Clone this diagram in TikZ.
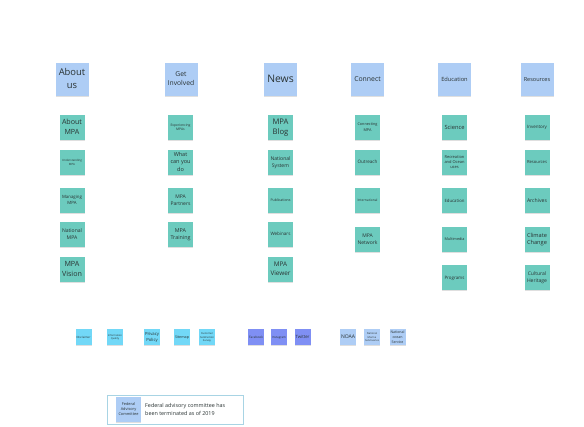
\documentclass[tikz,border=0pt]{standalone}
\usepackage{fontspec}
\usepackage{graphicx}
\setmainfont{Open Sans}
\usetikzlibrary{shadows}
\definecolor{hdrblue}{HTML}{AECDF5}
\definecolor{tealnote}{HTML}{6CCBBE}
\definecolor{cyannote}{HTML}{72D8F7}
\definecolor{socialnote}{HTML}{7F8FF4}
\definecolor{framecol}{HTML}{A8D4E4}
\definecolor{txt}{HTML}{2A3333}
\newcommand{\fitw}[2]{\resizebox{#1}{!}{\fontsize{10}{13.6}\selectfont\begin{tabular}{@{}c@{}}#2\end{tabular}}}
\newcommand{\fith}[1]{\fitw{26.5pt}{#1}}
\newcommand{\fitn}[1]{\fitw{20pt}{#1}}
\newcommand{\fitf}[1]{\fitw{14pt}{#1}}
\tikzset{
  sticky/.style={rectangle, inner sep=0pt, align=center, text=txt,
    drop shadow={shadow xshift=0pt, shadow yshift=-1pt, opacity=0.25, fill=gray}},
  hdr/.style={sticky, fill=hdrblue, minimum width=33pt, minimum height=33pt},
  note/.style={sticky, fill=tealnote, minimum width=25pt, minimum height=25pt},
  foot/.style={sticky, fill=cyannote, minimum width=16pt, minimum height=16pt},
  social/.style={sticky, fill=socialnote, minimum width=16pt, minimum height=16pt},
  org/.style={sticky, fill=hdrblue, minimum width=16pt, minimum height=16pt},
}
\begin{document}
\begin{tikzpicture}[x=1pt,y=1pt]
\useasboundingbox[fill=white] (0,0) rectangle (584,-427);
% headers
\node[hdr] (h1) at (72,-79.5) {\fith{About\\us}};
\node[hdr] (h2) at (181,-79.5) {\fith{Get\\Involved}};
\node[hdr] (h3) at (280.5,-79.5) {\fith{News}};
\node[hdr] (h4) at (367.5,-79.5) {\fith{Connect}};
\node[hdr] (h5) at (454.5,-79.5) {\fith{Education}};
\node[hdr] (h6) at (537,-79.5) {\fith{Resources}};
% About us
\node[note] (a1) at (72,-127.5) {\fitn{About\\MPA}};
\node[note] (a2) at (72,-162.5) {\fitn{Understanding\\MPA}};
\node[note] (a3) at (72,-200.5) {\fitn{Managing\\MPA}};
\node[note] (a4) at (72,-234.5) {\fitn{National\\MPA}};
\node[note] (a5) at (72,-269.5) {\fitn{MPA\\Vision}};
% Get involved
\node[note] (g1) at (180.5,-127.5) {\fitn{Experiencing\\MPAs}};
\node[note] (g2) at (180.5,-162.5) {\fitn{What\\can you\\do}};
\node[note] (g3) at (180.5,-200.5) {\fitn{MPA\\Partners}};
\node[note] (g4) at (180.5,-234.5) {\fitn{MPA\\Training}};
% News
\node[note] (n1) at (280.5,-127.5) {\fitw{16pt}{MPA\\Blog}};
\node[note] (n2) at (280.5,-162.5) {\fitn{National\\System}};
\node[note] (n3) at (280.5,-201) {\fitn{Publications}};
\node[note] (n4) at (280.5,-234.5) {\fitn{Webinars}};
\node[note] (n5) at (280.5,-269.5) {\fitn{MPA\\Viewer}};
% Connect
\node[note] (c1) at (367.5,-127.5) {\fitn{Connecting\\MPA}};
\node[note] (c2) at (367.5,-162.5) {\fitn{Outreach}};
\node[note] (c3) at (367.5,-201) {\fitn{International}};
\node[note] (c4) at (367.5,-239.5) {\fitn{MPA\\Network}};
% Education
\node[note] (e1) at (454.5,-127.5) {\fitn{Science}};
\node[note] (e2) at (454.5,-162.5) {\fitn{Recreation\\and Ocean\\uses}};
\node[note] (e3) at (454.5,-201) {\fitn{Education}};
\node[note] (e4) at (454.5,-239.5) {\fitn{Multimedia}};
\node[note] (e5) at (454.5,-278) {\fitn{Programs}};
% Resources
\node[note] (r1) at (537,-127.5) {\fitn{Inventory}};
\node[note] (r2) at (537,-162.5) {\fitn{Resources}};
\node[note] (r3) at (537,-201) {\fitn{Archives}};
\node[note] (r4) at (537,-239.5) {\fitn{Climate\\Change}};
\node[note] (r5) at (537,-278) {\fitn{Cultural\\Heritage}};
% footer row
\node[foot] (f1) at (83.5,-337.5) {\fitf{Disclaimer}};
\node[foot] (f2) at (115,-337.5) {\fitf{Information\\Quality}};
\node[foot] (f3) at (152,-337.5) {\fitf{Privacy\\Policy}};
\node[foot] (f4) at (182,-337.5) {\fitf{Sitemap}};
\node[foot] (f5) at (207,-337.5) {\fitf{Customer\\Satisfaction\\Survey}};
\node[social] (s1) at (256,-337.5) {\fitf{Facebook}};
\node[social] (s2) at (279,-337.5) {\fitf{Instagram}};
\node[social] (s3) at (302.5,-337.5) {\fitf{Twitter}};
\node[org] (o1) at (348,-337.5) {\fitf{NOAA}};
\node[org] (o2) at (372,-337.5) {\fitf{National\\Marine\\Sanctuaries}};
\node[org] (o3) at (397.5,-337.5) {\fitf{National\\ocean\\Service}};
% legend
\draw[framecol, line width=0.6pt] (107,-395.5) rectangle (243,-424);
\node[sticky, fill=hdrblue, minimum width=25pt, minimum height=25pt] (l1) at (128.5,-409.5) {\fitn{Federal\\Advisory\\Committee}};
\node[anchor=west, align=left, text=txt, font=\fontsize{5.4}{7.3}\selectfont, inner sep=0pt] (l2) at (145,-409.5) {Federal advisory committee has\\been terminated as of 2019};
\end{tikzpicture}
\end{document}
